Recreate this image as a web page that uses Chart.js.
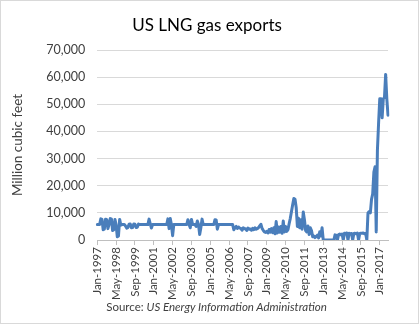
<!DOCTYPE html>
<html>
<head>
<meta charset="utf-8">
<script src="https://cdn.jsdelivr.net/npm/chart.js@4.4.0/dist/chart.umd.min.js"></script>
<style>
  body { margin: 0; background: #fff; }
  #wrap { position: relative; width: 419px; height: 324px; }
  #frame { position: absolute; left: 0; top: 0; width: 419px; height: 324px; box-sizing: border-box; border: 1px solid #d9d9d9; pointer-events: none; }
  #titulo { position: absolute; left: 0; width: 419px; top: 14px; text-align: center; font-family: Lato, sans-serif; font-size: 17px; color: #000; box-sizing: border-box; text-indent: -5px; }
  #source { position: absolute; left: 0; width: 419px; top: 300px; text-align: center; font-family: Lato, sans-serif; font-size: 11.5px; color: #404040; padding-left: 14px; box-sizing: border-box; }
</style>
</head>
<body>
<div id="wrap">
  <canvas id="grafico" width="419" height="324"></canvas>
  <div id="titulo">US LNG gas exports</div>
  <div id="frame"></div>
  <div id="source">Source: <i>US Energy Information Administration</i></div>
</div>
<script>
// monthly LNG exports, million cubic feet, Jan-1997 .. Aug-2017
var y1997 = [5700, 5700, 5700, 7800, 7600, 3800, 4000, 7700, 7500, 4200, 5700, 7900];
var y1998 = [7800, 3500, 3800, 7600, 5600, 1200, 1500, 7600, 5500, 5700, 5700, 5700];
var y1999 = [5200, 4400, 4600, 5800, 5900, 4500, 4600, 5900, 5800, 4600, 4700, 5900];
var y2000 = [5700, 5700, 5700, 5700, 5700, 5700, 5700, 5700, 7700, 6000, 4400, 5700];
var y2001 = [5700, 5700, 5700, 5700, 5700, 5700, 5700, 5700, 5700, 5700, 5700, 5700];
var y2002 = [7800, 4200, 7900, 5600, 1600, 5700, 5700, 5700, 5700, 5700, 5700, 5700];
var y2003 = [5700, 5700, 5700, 5700, 5700, 7500, 5700, 4500, 7600, 5700, 5700, 5700];
var y2004 = [5000, 7000, 5700, 2000, 4500, 7700, 5700, 5700, 5700, 5700, 5700, 5700];
var y2005 = [5700, 5700, 5700, 5700, 7500, 7400, 4000, 5700, 5700, 5700, 5700, 5700];
var y2006 = [5700, 5700, 5700, 5700, 5700, 5700, 5700, 5700, 3800, 4500, 5000, 4300];
var y2007 = [4800, 4400, 4300, 3600, 4500, 4200, 4200, 3500, 4400, 4000, 4100, 3600];
var y2008 = [4300, 3800, 4500, 4000, 4200, 4600, 5200, 5800, 4300, 3600, 3000, 2800];
var y2009 = [3200, 2600, 3900, 2900, 4200, 2700, 4500, 2300, 6800, 2600, 4800, 2900];
var y2010 = [5000, 2500, 7000, 3000, 5000, 3200, 3800, 6000, 8000, 10500, 13000, 15300];
var y2011 = [15000, 12000, 5000, 8000, 4500, 7500, 4000, 10300, 7500, 3500, 3000, 5200];
var y2012 = [2000, 4500, 3500, 1200, 1500, 900, 1300, 1800, 800, 3000, 1500, 4500];
var y2013 = [0, 0, 0, 0, 0, 0, 0, 0, 0, 0, 1900, 1800];
var y2014 = [0, 2000, 2200, 1900, 2200, 0, 2500, 2400, 2600, 0, 2500, 2300];
var y2015 = [2400, 0, 2400, 2500, 2300, 2600, 0, 2400, 2500, 2500, 2600, 2300];
var y2016 = [2500, 0, 10000, 10500, 10000, 15000, 17000, 25000, 27000, 3000, 33000, 43000];
var y2017 = [52000, 52000, 45000, 52000, 52500, 61000, 52000, 46000];

var exportsMcf = [].concat(y1997, y1998, y1999, y2000, y2001, y2002, y2003, y2004,
	y2005, y2006, y2007, y2008, y2009, y2010, y2011, y2012, y2013, y2014,
	y2015, y2016, y2017);

var monthNames = ['Jan', 'Feb', 'Mar', 'Apr', 'May', 'Jun', 'Jul', 'Aug', 'Sep', 'Oct', 'Nov', 'Dec'];
var firstYear = 1997;

var tickLabels = ['Jan-1997', 'May-1998', 'Sep-1999', 'Jan-2001', 'May-2002', 'Sep-2003',
	'Jan-2005', 'May-2006', 'Sep-2007', 'Jan-2009', 'May-2010', 'Sep-2011',
	'Jan-2013', 'May-2014', 'Sep-2015', 'Jan-2017'];

var yTicks = [0, 10000, 20000, 30000, 40000, 50000, 60000, 70000];

var categories = [];
for (var i = 0; i < exportsMcf.length; i++) {
	categories.push(monthNames[i % 12] + '-' + (firstYear + Math.floor(i / 12)));
}

var fonte = 'Lato, sans-serif';
var ctx = document.getElementById('grafico');

var chart = new Chart(ctx, {
	type: 'line',
	data: {
		labels: categories,
		datasets: [{
			label: 'US LNG gas exports',
			data: exportsMcf,
			borderColor: '#4a7ebb',
			borderWidth: 3,
			borderJoinStyle: 'round',
			borderCapStyle: 'round',
			pointRadius: 0,
			tension: 0,
			fill: false
		}]
	},
	options: {
		responsive: false,
		animation: false,
		layout: { padding: { left: 10, right: 31, top: 50, bottom: 22 } },
		plugins: {
			legend: { display: false },
			tooltip: { enabled: false },
			title: { display: false }
		},
		scales: {
			x: {
				type: 'category',
				offset: false,
				grid: { display: true, drawOnChartArea: false, color: '#bfbfbf', tickLength: 5 },
				border: { display: true, color: '#bfbfbf' },
				ticks: {
					autoSkip: false,
					maxRotation: 90,
					minRotation: 90,
					padding: 2,
					color: '#404040',
					font: { family: fonte, size: 11.5 },
					callback: function(value, index) {
						var lab = categories[index];
						return tickLabels.indexOf(lab) >= 0 ? lab : null;
					}
				}
			},
			y: {
				min: 0,
				max: yTicks[yTicks.length - 1],
				afterBuildTicks: function(axis) {
					axis.ticks = yTicks.map(function(v) { return { value: v }; });
				},
				grid: { color: '#d9d9d9', drawTicks: false },
				border: { display: false },
				ticks: {
					padding: 12,
					color: '#404040',
					font: { family: fonte, size: 12.5 },
					callback: function(v) { return v.toLocaleString('en-US'); }
				},
				title: {
					display: true,
					text: 'Million cubic feet',
					color: '#404040',
					font: { family: fonte, size: 13.5 },
					padding: { top: 0, bottom: 8 }
				}
			}
		}
	}
});
</script>
</body>
</html>
